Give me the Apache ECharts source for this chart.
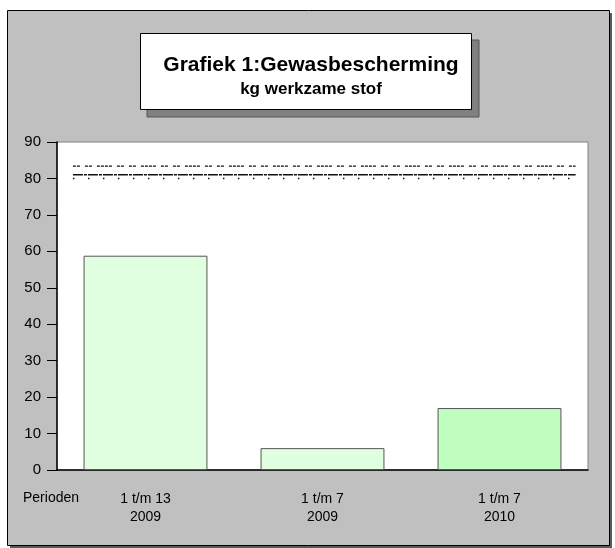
<!DOCTYPE html>
<html>
<head>
<meta charset="utf-8">
<script src="https://cdn.jsdelivr.net/npm/echarts@6/dist/echarts.min.js"></script>
<style>
  html, body { margin: 0; padding: 0; background: #fff; }
  #chart { width: 615px; height: 548px; }
</style>
</head>
<body>
<div id="chart"></div>
<script>
// Gewasbescherming: kg werkzame stof per periode
const categories = ['1 t/m 13\n2009', '1 t/m 7\n2009', '1 t/m 7\n2010'];
const values = [58.8, 6, 17];
const barColors = ['#e0ffe0', '#e0ffe0', '#c0ffc0'];
const yTicks = [0, 90, 10]; // min, max, interval

// norm lines (dashed / dotted) boven de staven
const refLevels = [83.4, 81, 80];
const refSpan = [0.09, 2.93]; // in category units along the axis

const chart = echarts.init(document.getElementById('chart'));

const font = 'Liberation Sans, Arial, sans-serif';

const refLine = (level, type, width) => ({
  type: 'line',
  xAxisIndex: 1,
  yAxisIndex: 0,
  symbol: 'none',
  silent: true,
  z: 5,
  data: refSpan.map(x => [x, level]),
  lineStyle: { color: '#111', width: width, type: type }
});

const option = {
  backgroundColor: '#fff',
  animation: false,
  title: {
    text: 'Grafiek 1:Gewasbescherming',
    subtext: 'kg werkzame stof',
    left: 306,
    top: 50,
    textAlign: 'center',
    itemGap: 5,
    textStyle: { fontFamily: font, fontSize: 21, fontWeight: 'bold', color: '#000' },
    subtextStyle: { fontFamily: font, fontSize: 17, fontWeight: 'bold', color: '#000' },
    z: 20
  },
  graphic: [
    // outer frame with shadow
    { type: 'rect', shape: { x: 10, y: 13, width: 602, height: 535 }, style: { fill: '#5a5a5a' }, z: -20 },
    { type: 'rect', shape: { x: 7.5, y: 10.5, width: 602, height: 535 }, style: { fill: '#c0c0c0', stroke: '#000', lineWidth: 1 }, z: -19 },
    // title box with shadow
    { type: 'rect', shape: { x: 147, y: 40, width: 332, height: 77 }, style: { fill: '#808080', stroke: '#555', lineWidth: 1 }, z: 10 },
    { type: 'rect', shape: { x: 140.5, y: 33.5, width: 331, height: 76 }, style: { fill: '#fff', stroke: '#000', lineWidth: 1 }, z: 11 },
    { type: 'text', left: 23, top: 491, style: { text: 'Perioden', fontFamily: font, fontSize: 14, fill: '#000' } }
  ],
  grid: {
    left: 57, top: 142, width: 531, height: 328,
    show: true, backgroundColor: '#fff', borderColor: '#808080', borderWidth: 1
  },
  xAxis: [
    {
      type: 'category',
      data: categories,
      axisLine: { lineStyle: { color: '#000', width: 1.5 } },
      axisTick: { alignWithLabel: true, length: 10, lineStyle: { color: '#000' } },
      axisLabel: { color: '#000', fontFamily: font, fontSize: 14, lineHeight: 18, margin: 20 }
    },
    { type: 'value', min: 0, max: 3, show: false }
  ],
  yAxis: {
    type: 'value',
    min: yTicks[0],
    max: yTicks[1],
    interval: yTicks[2],
    splitLine: { show: false },
    axisLine: { show: true, lineStyle: { color: '#000', width: 1.5 } },
    axisTick: { show: true, length: 10, lineStyle: { color: '#000' } },
    axisLabel: { color: '#000', fontFamily: font, fontSize: 15, margin: 16 }
  },
  series: [
    {
      type: 'bar',
      barCategoryGap: '30%',
      data: values.map((v, i) => ({ value: v, itemStyle: { color: barColors[i] } })),
      itemStyle: { borderColor: '#555', borderWidth: 1 }
    },
    refLine(refLevels[0], [3, 1, 3, 5, 3, 1, 3, 5, 3, 1, 3, 1, 3, 1, 3, 5], 1.3),
    refLine(refLevels[1], [10, 1, 3, 1], 1.5),
    refLine(refLevels[2], [1.5, 13.5], 1.5)
  ]
};

chart.setOption(option);
</script>
</body>
</html>
